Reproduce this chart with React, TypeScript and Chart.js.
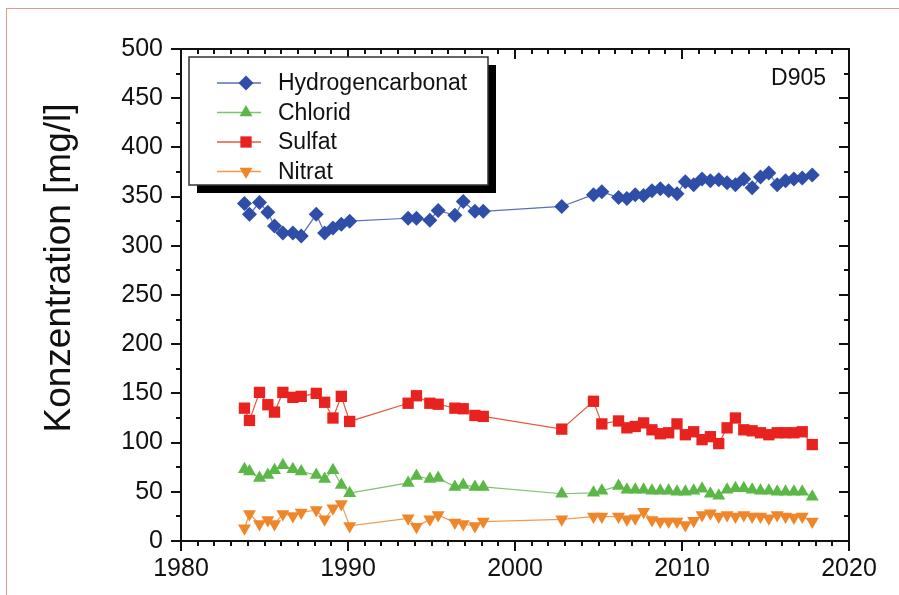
import React, { useEffect, useRef } from 'react';
import { Chart, registerables } from 'chart.js';

Chart.register(...registerables);

const FONT = "'Liberation Sans', Arial, Helvetica, sans-serif";

// ---- data -----------------------------------------------------------
const sampleYears = [
  1983.8, 1984.1, 1984.7, 1985.2, 1985.6, 1986.1, 1986.7, 1987.2, 1988.1, 1988.6,
  1989.1, 1989.6, 1990.1, 1993.6, 1994.1, 1994.9, 1995.4, 1996.4, 1996.9, 1997.6,
  1998.1, 2002.8, 2004.7, 2005.2, 2006.2, 2006.7, 2007.2, 2007.7, 2008.2, 2008.7,
  2009.2, 2009.7, 2010.2, 2010.7, 2011.2, 2011.7, 2012.2, 2012.7, 2013.2, 2013.7,
  2014.2, 2014.7, 2015.2, 2015.7, 2016.2, 2016.7, 2017.2, 2017.8,
];

const hydrogencarbonat = [
  343, 332, 344, 334, 320, 313, 313, 310, 332, 313,
  318, 322, 325, 328, 328, 326, 336, 331, 345, 335,
  335, 340, 352, 355, 349, 348, 352, 351, 356, 358,
  356, 353, 365, 362, 368, 366, 367, 364, 362, 368,
  359, 370, 374, 362, 366, 368, 369, 372,
];

const chlorid = [
  73, 70.6, 64, 67, 72, 77, 73, 70.6, 67, 63,
  72, 57, 48.6, 59, 66, 63, 64, 55, 57, 55,
  55, 48, 49, 51, 56, 52, 52, 52, 51, 51,
  51, 50, 50, 51, 53, 48, 46, 52, 53.5, 53.5,
  52, 51, 51, 50, 50, 50, 50, 45,
];

const sulfat = [
  135, 122.5, 151, 138.5, 131, 151, 146, 147, 150, 141,
  125, 147, 121.5, 140, 147.6, 140, 139, 135, 134.4, 127.6,
  126.6, 113.7, 142, 119, 122, 115, 116.4, 120, 113, 109,
  110, 119, 108, 111, 103, 106, 99, 115, 125, 113,
  112, 110, 108, 110, 110, 110, 111, 98,
];

const nitrat = [
  13, 27.5, 17.3, 21.4, 17.3, 27.5, 25.5, 29, 31.6, 22,
  33.3, 37.7, 15.3, 23, 14.6, 22, 26.5, 18.7, 17.3, 15.3,
  19.7, 22, 24.8, 24.8, 24.8, 22, 23, 29.8, 21.4, 19.7,
  19.7, 19.7, 16.3, 20.7, 26.5, 28.2, 24.8, 26.5, 24.8, 26.5,
  24.8, 24.8, 23, 26.5, 24.8, 24, 24.8, 19.7,
];

const seriesNames = ['Hydrogencarbonat', 'Chlorid', 'Sulfat', 'Nitrat'];
const xTickLabels = [1980, 1990, 2000, 2010, 2020];
const yTickLabels = [0, 50, 100, 150, 200, 250, 300, 350, 400, 450, 500];
const yTitle = 'Konzentration [mg/l]';
const stationLabel = 'D905';

// ---- styles ----------------------------------------------------------
const markerColors = ['#2f4ea8', '#5cb846', '#e8231f', '#f0862a'];
const lineColors = ['#5a6fb8', '#7cc46a', '#e8573e', '#f39a52'];
const markerStyles = ['rectRot', 'triangle', 'rect', 'triangleDown'];
const markerRadii = [7.5, 7.5, 8, 7.5];

function drawMarker(ctx: CanvasRenderingContext2D, style: string, x: number, y: number, r: number, color: string) {
  ctx.save();
  ctx.fillStyle = color;
  ctx.beginPath();
  const s60 = Math.sin(Math.PI / 3);
  if (style === 'rectRot') {
    ctx.moveTo(x, y - r);
    ctx.lineTo(x + r, y);
    ctx.lineTo(x, y + r);
    ctx.lineTo(x - r, y);
  } else if (style === 'rect') {
    const s = r * Math.SQRT1_2;
    ctx.rect(x - s, y - s, 2 * s, 2 * s);
  } else if (style === 'triangle') {
    ctx.moveTo(x, y - r);
    ctx.lineTo(x + r * s60, y + r / 2);
    ctx.lineTo(x - r * s60, y + r / 2);
  } else {
    ctx.moveTo(x, y + r);
    ctx.lineTo(x + r * s60, y - r / 2);
    ctx.lineTo(x - r * s60, y - r / 2);
  }
  ctx.closePath();
  ctx.fill();
  ctx.restore();
}

const decorPlugin = {
  id: 'decor',
  afterDraw(chart: any) {
    const { ctx, chartArea: a, scales } = chart;
    const xs = scales.x;
    const ys = scales.y;
    ctx.save();
    // frame
    ctx.strokeStyle = '#111';
    ctx.lineWidth = 2;
    ctx.strokeRect(a.left, a.top, a.right - a.left, a.bottom - a.top);
    // ticks
    ctx.lineWidth = 2;
    ctx.beginPath();
    const x0 = xTickLabels[0];
    const x1 = xTickLabels[xTickLabels.length - 1];
    for (let yr = x0; yr <= x1; yr += 1) {
      const px = Math.round(xs.getPixelForValue(yr));
      const len = (yr - x0) % 10 === 0 ? 10 : 5;
      ctx.moveTo(px, a.bottom);
      ctx.lineTo(px, a.bottom + len);
      ctx.moveTo(px, a.top);
      ctx.lineTo(px, a.top + len);
    }
    const y1 = yTickLabels[yTickLabels.length - 1];
    for (let v = 0; v <= y1; v += 25) {
      const py = Math.round(ys.getPixelForValue(v));
      const len = v % 50 === 0 ? 10 : 5;
      ctx.moveTo(a.left - len, py);
      ctx.lineTo(a.left, py);
      ctx.moveTo(a.right - len, py);
      ctx.lineTo(a.right, py);
    }
    ctx.stroke();

    // station label
    ctx.fillStyle = '#111';
    ctx.font = `23px ${FONT}`;
    ctx.textAlign = 'right';
    ctx.textBaseline = 'middle';
    ctx.fillText(stationLabel, a.right - 23, a.top + 30);

    // y title
    ctx.save();
    ctx.translate(60, 268);
    ctx.rotate(-Math.PI / 2);
    ctx.textAlign = 'center';
    ctx.textBaseline = 'middle';
    ctx.font = `37px ${FONT}`;
    ctx.fillStyle = '#111';
    ctx.fillText(yTitle, 0, 0);
    ctx.restore();

    // legend
    const bx = a.left + 8;
    const by = a.top + 8;
    const bw = 299;
    const bh = 128;
    ctx.fillStyle = '#000';
    ctx.fillRect(bx + 8, by + 8, bw, bh);
    ctx.fillStyle = '#fff';
    ctx.fillRect(bx, by, bw, bh);
    ctx.strokeStyle = '#333';
    ctx.lineWidth = 1.5;
    ctx.strokeRect(bx, by, bw, bh);
    ctx.font = `23px ${FONT}`;
    ctx.textAlign = 'left';
    ctx.textBaseline = 'middle';
    seriesNames.forEach((name, i) => {
      const cy = by + 26 + i * 29.5;
      ctx.strokeStyle = lineColors[i];
      ctx.lineWidth = 1.5;
      ctx.beginPath();
      ctx.moveTo(bx + 28, cy);
      ctx.lineTo(bx + 72, cy);
      ctx.stroke();
      drawMarker(ctx, markerStyles[i], bx + 57, cy, markerRadii[i], markerColors[i]);
      ctx.fillStyle = '#111';
      ctx.fillText(name, bx + 89, cy + 1);
    });
    ctx.restore();
  },
};

export default function App() {
  const ref = useRef<HTMLCanvasElement>(null);

  useEffect(() => {
    const values = [hydrogencarbonat, chlorid, sulfat, nitrat];
    const datasets = values.map((vals, i) => ({
      label: seriesNames[i],
      data: sampleYears.map((yr, j) => ({ x: yr, y: vals[j] })),
      showLine: true,
      borderColor: lineColors[i],
      borderWidth: 1.2,
      backgroundColor: markerColors[i],
      pointBackgroundColor: markerColors[i],
      pointBorderColor: markerColors[i],
      pointBorderWidth: 0,
      pointStyle: markerStyles[i] === 'triangleDown' ? 'triangle' : markerStyles[i],
      pointRotation: markerStyles[i] === 'triangleDown' ? 180 : 0,
      pointRadius: markerRadii[i],
      pointHoverRadius: markerRadii[i],
      tension: 0,
    }));
    const ordered = datasets.slice().reverse();

    const chart = new Chart(ref.current as HTMLCanvasElement, {
      type: 'scatter',
      data: { datasets: ordered as any },
      options: {
        responsive: false,
        animation: false,
        events: [],
        layout: { autoPadding: false, padding: { top: 49, right: 50, left: 0, bottom: 0 } },
        plugins: { legend: { display: false }, tooltip: { enabled: false } },
        scales: {
          x: {
            type: 'linear',
            min: xTickLabels[0],
            max: xTickLabels[xTickLabels.length - 1],
            afterFit: (s: any) => { s.height = 54; },
            afterBuildTicks: (s: any) => { s.ticks = xTickLabels.map((v) => ({ value: v })); },
            grid: { display: false },
            border: { display: false },
            ticks: {
              font: { family: FONT, size: 25 },
              color: '#111',
              padding: 5,
              maxRotation: 0,
              autoSkip: false,
              callback: (v: any) => String(v),
            },
          },
          y: {
            type: 'linear',
            min: yTickLabels[0],
            max: yTickLabels[yTickLabels.length - 1],
            afterFit: (s: any) => { s.width = 181; },
            afterBuildTicks: (s: any) => { s.ticks = yTickLabels.map((v) => ({ value: v })); },
            grid: { display: false },
            border: { display: false },
            ticks: {
              font: { family: FONT, size: 25 },
              color: '#111',
              padding: 10,
              autoSkip: false,
              callback: (v: any) => String(v),
            },
          },
        },
      },
      plugins: [decorPlugin],
    });
    return () => chart.destroy();
  }, []);

  return (
    <div style={{ position: 'fixed', left: 0, top: 0, width: 899, height: 595, background: '#fff', overflow: 'hidden' }}>
      <div
        style={{
          position: 'absolute',
          left: 6,
          top: 8,
          right: -2,
          bottom: -2,
          borderTop: '1.5px solid #e39a82',
          borderLeft: '1.5px solid #e39a82',
        }}
      />
      <canvas ref={ref} width={899} height={595} style={{ position: 'absolute', left: 0, top: 0 }} />
    </div>
  );
}
